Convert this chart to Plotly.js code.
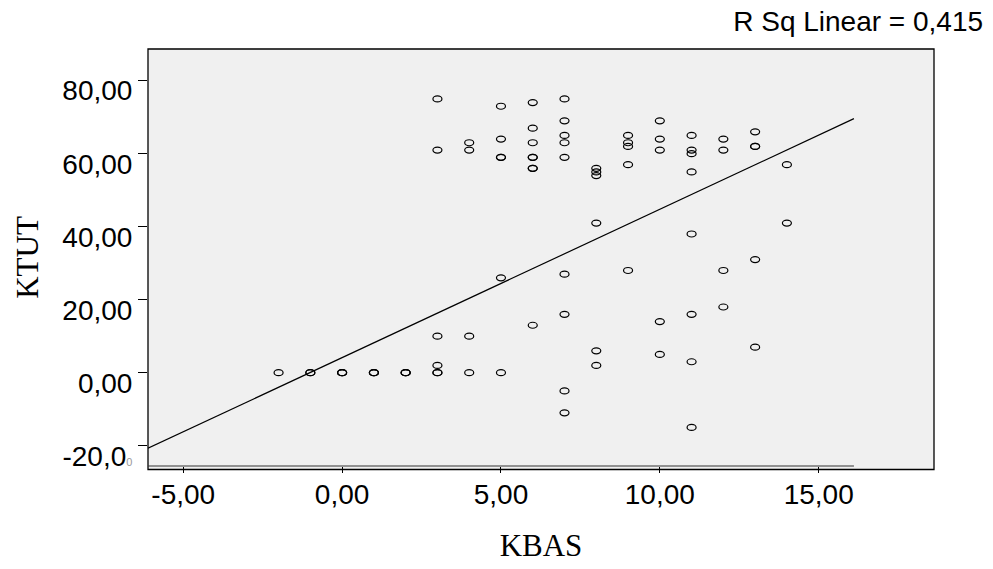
<!DOCTYPE html>
<html>
<head>
<meta charset="utf-8">
<script src="https://cdn.plot.ly/plotly-3.0.1.min.js"></script>
<style>html,body{margin:0;padding:0;background:#fff;}</style>
</head>
<body>
<div id="chart" style="width:993px;height:569px;"></div>
<script>
// KBAS values (x) and KTUT values (y)
const kbas = [
  -2,
  -1, -1,
  0, 0, 0,
  1, 1, 1,
  2, 2, 2,
  3, 3, 3, 3, 3, 3,
  4, 4, 4, 4,
  5, 5, 5, 5, 5, 5,
  6, 6, 6, 6, 6, 6, 6, 6,
  7, 7, 7, 7, 7, 7, 7, 7, 7,
  8, 8, 8, 8, 8, 8,
  9, 9, 9, 9, 9,
  10, 10, 10, 10, 10,
  11, 11, 11, 11, 11, 11, 11, 11,
  12, 12, 12, 12,
  13, 13, 13, 13, 13,
  14, 14
];
const ktut = [
  0,
  0, 0,
  0, 0, 0,
  0, 0, 0,
  0, 0, 0,
  75, 61, 10, 2, 0, 0,
  63, 61, 10, 0,
  73, 64, 59, 59, 26, 0,
  74, 67, 63, 59, 59, 56, 56, 13,
  75, 69, 65, 63, 59, 27, 16, -5, -11,
  56, 55, 54, 41, 6, 2,
  65, 63, 62, 57, 28,
  69, 64, 61, 14, 5,
  65, 61, 60, 55, 38, 16, 3, -15,
  64, 61, 28, 18,
  66, 62, 62, 31, 7,
  57, 41
];
// Linear fit and the range it spans
const fitIntercept = 4.13;
const fitSlope = 4.064;
const fitXRange = [-6.11, 16.11];
const rSqText = "R Sq Linear = 0,415";

const xTickVals = [-5, 0, 5, 10, 15];
const xTickText = ["-5,00", "0,00", "5,00", "10,00", "15,00"];
const yTickVals = [-20, 0, 20, 40, 60, 80];
const yTickText = ["-20,0<span style='font-size:11px;fill:#999'>0</span>", "0,00", "20,00", "40,00", "60,00", "80,00"];

const xRange = [-6.11, 18.63];
const yRange = [-25.56, 88.68];

const fitX = fitXRange.slice();
const fitY = fitX.map(v => fitIntercept + fitSlope * v);

const traces = [
  {
    type: 'scatter', mode: 'markers', x: kbas, y: ktut,
    marker: {symbol: 'circle-open', size: 8, color: '#000', line: {color: '#000', width: 1.2}},
    hoverinfo: 'x+y', showlegend: false
  },
  {
    type: 'scatter', mode: 'lines', x: fitX, y: fitY,
    line: {color: '#000', width: 1.2}, hoverinfo: 'skip', showlegend: false
  }
];

const layout = {
  width: 993, height: 569,
  margin: {l: 148, r: 59, t: 49, b: 103, pad: 0},
  paper_bgcolor: '#fff', plot_bgcolor: '#f0f0f0',
  font: {family: 'Liberation Sans, Arial, sans-serif', color: '#000'},
  title: {text: rSqText, x: 0.99, xanchor: 'right', xref: 'container', y: 0.963, yanchor: 'middle',
          font: {family: 'Liberation Sans, Arial, sans-serif', size: 28, color: '#000'}},
  xaxis: {
    range: xRange, tickvals: xTickVals, ticktext: xTickText,
    showgrid: false, zeroline: false, showline: false,
    ticks: 'outside', ticklen: 6, tickwidth: 1, tickcolor: '#000',
    ticklabelstandoff: -3,
    tickfont: {family: 'Liberation Sans, Arial, sans-serif', size: 28, color: '#000'},
    title: {text: 'KBAS', standoff: 25, font: {family: 'Liberation Serif, Times New Roman, serif', size: 31, color: '#000'}},
    automargin: false, fixedrange: true
  },
  yaxis: {
    range: yRange, tickvals: yTickVals, ticktext: yTickText,
    showgrid: false, zeroline: false, showline: false,
    ticks: 'outside', ticklen: 9, tickwidth: 1, tickcolor: '#000',
    ticklabelshift: 10,
    tickfont: {family: 'Liberation Sans, Arial, sans-serif', size: 28, color: '#000'},
    title: {text: 'KTUT', standoff: 14, font: {family: 'Liberation Serif, Times New Roman, serif', size: 31, color: '#000'}},
    automargin: false, fixedrange: true
  },
  shapes: [
    {type: 'rect', xref: 'paper', yref: 'paper', x0: 0, x1: 1, y0: -3.5/417, y1: 1,
     fillcolor: '#f0f0f0', line: {color: '#000', width: 1.3}, layer: 'below'},
    {type: 'line', xref: 'x', yref: 'paper', x0: fitXRange[0], x1: fitXRange[1], y0: 0, y1: 0,
     line: {color: '#333', width: 1}, layer: 'above'}
  ]
};

Plotly.newPlot('chart', traces, layout, {displayModeBar: false, staticPlot: true}).then(() => {
  // SPSS draws the markers as flat ellipses
  document.querySelectorAll('.scatterlayer .trace:first-child path.point').forEach(p => {
    p.setAttribute('d', 'M4.5,0A4.5,3 0 1,1 -4.5,0A4.5,3 0 1,1 4.5,0Z');
  });
});
</script>
</body>
</html>
